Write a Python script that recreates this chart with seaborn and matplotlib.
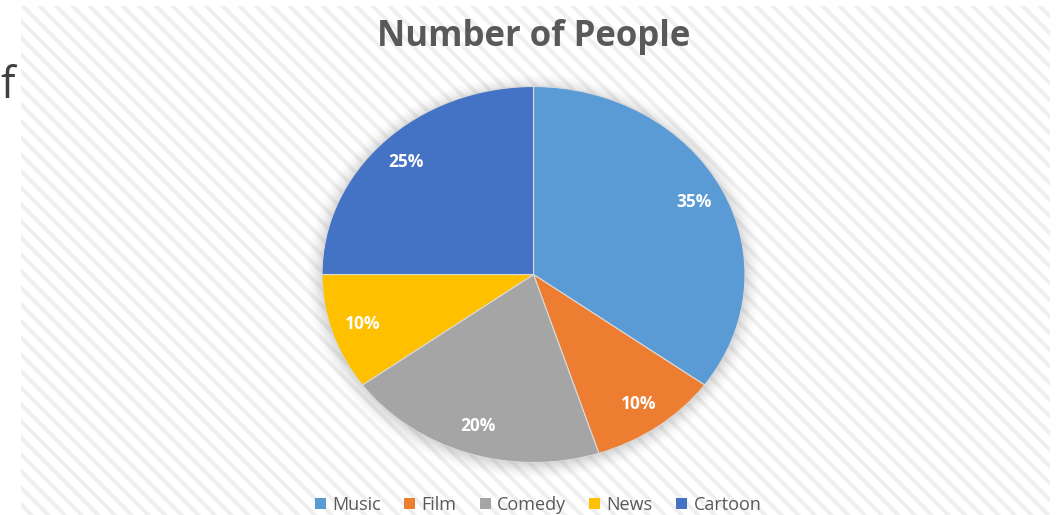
import numpy as np
import matplotlib
matplotlib.use("Agg")
import matplotlib.pyplot as plt
from matplotlib.patches import Rectangle, Ellipse
import seaborn as sns

# ---- data ----
categories = ["Music", "Film", "Comedy", "News", "Cartoon"]
values = [35, 10, 20, 10, 25]
colors = ["#5B9BD5", "#ED7D31", "#A5A5A5", "#FFC000", "#4472C4"]
title = "Number of People"

sns.set_theme(style="white")
plt.rcParams["font.family"] = ["Open Sans", "DejaVu Sans"]
plt.rcParams["hatch.color"] = "#efefef"
plt.rcParams["hatch.linewidth"] = 2.8

W, H = 1059, 515
fig = plt.figure(figsize=(W / 100, H / 100), dpi=100)
fig.patch.set_facecolor("white")

# hatched chart area background
bg = Rectangle((21 / W, 0), (1050 - 21) / W, (H - 6) / H, transform=fig.transFigure,
               facecolor="white", edgecolor="#efefef", hatch="\\\\", linewidth=0, zorder=-10)
fig.patches.append(bg)

# cropped text fragment at left
fig.text(0 / W, 1 - 87 / H, "f", fontsize=31, color="#404040", ha="left", va="center",
         family=["Open Sans", "DejaVu Sans"])

# pie axes (elliptical pie)
cx, cy, rx, ry = 533.5, 274.5, 211.5, 188
ax = fig.add_axes([(cx - rx) / W, (H - cy - ry) / H, 2 * rx / W, 2 * ry / H])
ax.set_facecolor("none")

# soft glow/shadow
for s, a in zip(np.linspace(1.075, 1.0, 10), np.linspace(0.012, 0.05, 10)):
    e = Ellipse((0.0, -0.01), 2 * s, 2 * s, facecolor="#808080", edgecolor="none",
                alpha=a, clip_on=False, zorder=0)
    ax.add_patch(e)

pal = sns.color_palette(colors)
wedges, texts, autotexts = ax.pie(
    values, colors=pal, startangle=90, counterclock=False, radius=1.0,
    autopct=lambda p: f"{p:.0f}%", pctdistance=0.85,
    wedgeprops=dict(linewidth=0.8, edgecolor="#d9d9d9"),
    textprops=dict(color="white", fontsize=12.5, fontweight="bold"))
for w in wedges:
    w.set_zorder(2)
for t in autotexts:
    t.set_zorder(3)
ax.set_aspect("auto")
ax.set_xlim(-1, 1)
ax.set_ylim(-1, 1)
ax.axis("off")

# title
fig.text(533.5 / W, 1 - 37 / H, title, ha="center", va="center", fontsize=25,
         fontweight="bold", color="#595959")

# legend
leg = fig.legend(wedges, categories, loc="center", bbox_to_anchor=(538 / W, 1 - 505 / H),
                 ncol=5, frameon=False, fontsize=13, labelcolor="#595959",
                 handlelength=0.6, handleheight=0.6, handletextpad=0.35,
                 columnspacing=1.3)
for h in leg.legend_handles:
    h.set_edgecolor("none")

fig.savefig("out.png", dpi=100)
